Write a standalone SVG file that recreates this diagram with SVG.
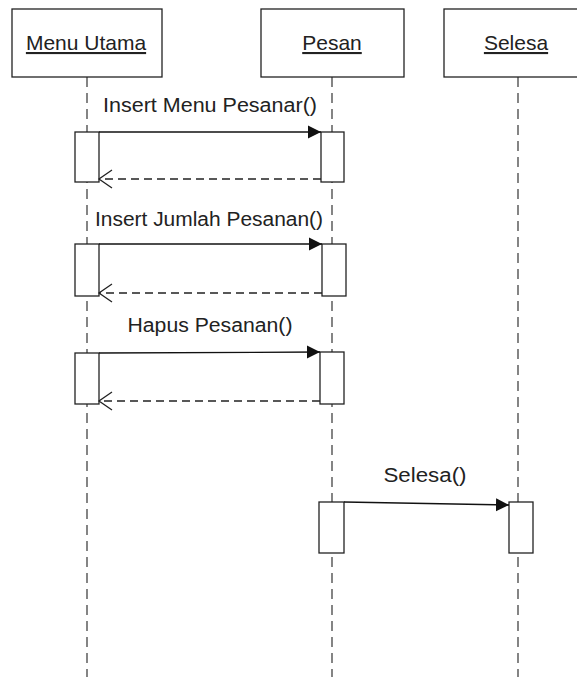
<svg xmlns="http://www.w3.org/2000/svg" width="577" height="679" viewBox="0 0 577 679">
<style>
.head{fill:#fff;stroke:#222;stroke-width:1.3}
.act{fill:#fff;stroke:#222;stroke-width:1.3}
.life{stroke:#444;stroke-width:1.3;stroke-dasharray:10 6;fill:none}
.msg{stroke:#111;stroke-width:1.3;fill:none}
.ret{stroke:#222;stroke-width:1.3;stroke-dasharray:8 5;fill:none}
.t{font-family:"Liberation Sans",Arial,sans-serif;font-size:20px;fill:#222;text-anchor:middle}
.h{font-size:21px;text-decoration:underline}
</style>
<defs>
<marker id="fill" markerWidth="14" markerHeight="14" refX="13" refY="7" orient="auto" markerUnits="userSpaceOnUse">
<path d="M0,0.5 L13,7 L0,13.5 Z" fill="#111"/>
</marker>
<marker id="open" markerWidth="16" markerHeight="22" refX="14" refY="11" orient="auto" markerUnits="userSpaceOnUse">
<path d="M1,2 L14,11 L1,20" fill="none" stroke="#222" stroke-width="1.3"/>
</marker>
</defs>
<g id="lifelines">
<line class="life" x1="87" y1="77" x2="87" y2="677"/>
<line class="life" x1="332" y1="77" x2="332" y2="677"/>
<line class="life" x1="518" y1="77" x2="518" y2="677"/>
</g>
<g id="menu-utama">
<rect class="head" x="12" y="9" width="150" height="68"/>
<text class="t h" x="86" y="50">Menu Utama</text>
<rect class="act" x="75" y="132" width="24" height="50"/>
<rect class="act" x="75" y="244" width="24" height="52"/>
<rect class="act" x="75" y="353" width="24" height="51"/>
</g>
<g id="pesan">
<rect class="head" x="261" y="9" width="143" height="68"/>
<text class="t h" x="332" y="50">Pesan</text>
<rect class="act" x="321" y="132" width="23" height="50"/>
<rect class="act" x="322" y="244" width="24" height="52"/>
<rect class="act" x="320" y="352" width="24" height="52"/>
<rect class="act" x="319" y="502" width="25" height="51"/>
</g>
<g id="selesa">
<rect class="head" x="444" y="9" width="145" height="68"/>
<text class="t h" x="516" y="50">Selesa</text>
<rect class="act" x="509" y="502" width="24" height="51"/>
</g>
<g id="connectors">
<line class="msg" x1="99" y1="132" x2="321" y2="132" marker-end="url(#fill)"/>
<line class="ret" x1="321" y1="179" x2="99" y2="179" marker-end="url(#open)"/>
<line class="msg" x1="99" y1="244" x2="322" y2="244" marker-end="url(#fill)"/>
<line class="ret" x1="322" y1="293" x2="99" y2="293" marker-end="url(#open)"/>
<line class="msg" x1="99" y1="353" x2="320" y2="352" marker-end="url(#fill)"/>
<line class="ret" x1="320" y1="401" x2="99" y2="401" marker-end="url(#open)"/>
<line class="msg" x1="344" y1="502" x2="509" y2="505" marker-end="url(#fill)"/>
</g>
<g id="labels">
<text class="t" x="210" y="112" textLength="214" lengthAdjust="spacingAndGlyphs">Insert Menu Pesanar()</text>
<text class="t" x="209" y="226" textLength="228" lengthAdjust="spacingAndGlyphs">Insert Jumlah Pesanan()</text>
<text class="t" x="210" y="332" textLength="165" lengthAdjust="spacingAndGlyphs">Hapus Pesanan()</text>
<text class="t" x="425" y="482" textLength="83" lengthAdjust="spacingAndGlyphs">Selesa()</text>
</g>
</svg>
